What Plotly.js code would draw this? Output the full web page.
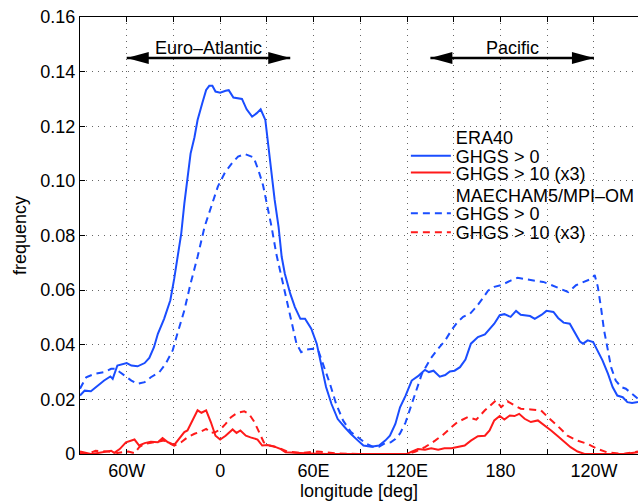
<!DOCTYPE html>
<html>
<head>
<meta charset="utf-8">
<script src="https://cdn.plot.ly/plotly-3.0.1.min.js"></script>
<style>html,body{margin:0;padding:0;background:#fff;overflow:hidden}</style>
</head>
<body>
<div id="chart" style="width:640px;height:501px"></div>
<script>
// ---------- data ----------
const eraAllLon = [-90,-87,-83,-78.5,-74.5,-70.5,-69,-66,-63.5,-60,-57,-53,-48.5,-45.5,-42.5,-40,-36,-32,-29.5,-27.5,-25,-23,-21,-19,-16.5,-14.5,-11.5,-9,-7,-5,-3,0,3.5,5.5,8.5,14,17,20.5,23.5,26,29,31,33,35,37.5,39.5,41.5,45,48,51.5,54.5,58.5,62,65,68,71.5,75.5,80,84,88.5,92,97,102,106,109,112.5,115.5,119,123,127.5,131.5,134,137,141,144.5,147.5,150.5,154,157.5,161,165.5,170,173,176,179.5,182.5,186.5,190,193,196,199,202,206.5,209.5,214,217,220.5,224.5,227.5,231,233,236,239.5,242.5,245.5,249,252,255,258.5,261.5,264.5,268.3];
const eraAllVal = [0.0214,0.0232,0.0230,0.0251,0.0269,0.0284,0.0275,0.0324,0.0327,0.0333,0.0324,0.0321,0.0333,0.0352,0.0391,0.0440,0.0495,0.0563,0.0642,0.0710,0.0807,0.0917,0.1003,0.1100,0.1160,0.1223,0.1284,0.1333,0.1348,0.1348,0.1327,0.1323,0.1330,0.1332,0.1305,0.1300,0.1262,0.1235,0.1248,0.1262,0.1223,0.1125,0.1028,0.0930,0.0832,0.0722,0.0661,0.0587,0.0538,0.0495,0.0495,0.0459,0.0404,0.0330,0.0245,0.0183,0.0128,0.0098,0.0073,0.0049,0.0031,0.0027,0.0031,0.0049,0.0067,0.0110,0.0171,0.0213,0.0269,0.0287,0.0308,0.0300,0.0305,0.0283,0.0289,0.0302,0.0305,0.0318,0.0346,0.0404,0.0428,0.0438,0.0459,0.0477,0.0508,0.0512,0.0502,0.0524,0.0510,0.0508,0.0505,0.0495,0.0510,0.0524,0.0520,0.0498,0.0481,0.0477,0.0447,0.0412,0.0404,0.0416,0.0410,0.0379,0.0343,0.0294,0.0245,0.0214,0.0208,0.0190,0.0187,0.0190];

const eraStrLon = [-90,-87,-83,-78.5,-74.5,-70,-68,-64.5,-60.5,-55,-52,-48.5,-44.5,-40,-37,-33.5,-29.5,-26.5,-23,-21,-17.5,-14.5,-12,-9,-6,-3,0,3.5,8,10.5,13,16.5,19.5,24,27,30.5,34.5,39,42,47.5,58,69,90,120,123,127,131.5,135.5,140,144,148.5,152.5,157,161,165.5,170,173,176,179.5,182.5,186,189,192,195.5,199.5,204,208,212.5,216.5,221,225,229.5,234,259,263.5,268.3];
const eraStrVal = [0.0009,0.0006,0,0.0004,0.0009,0.0012,0.0004,0.0018,0.0043,0.0053,0.0031,0.0040,0.0045,0.0043,0.0058,0.0043,0.0033,0.0055,0.0080,0.0086,0.0129,0.0160,0.0151,0.0160,0.0117,0.0067,0.0053,0.0067,0.0090,0.0077,0.0086,0.0067,0.0061,0.0053,0.0031,0.0033,0.0028,0.0018,0.0006,0.0004,0.0002,0,0,0,0.0009,0.0018,0.0016,0.0021,0.0016,0.0021,0.0021,0.0025,0.0031,0.0049,0.0065,0.0067,0.0086,0.0123,0.0139,0.0126,0.0141,0.0139,0.0147,0.0129,0.0117,0.0123,0.0107,0.0086,0.0067,0.0043,0.0025,0.0009,0,0,0.0004,0.0006];

const modAllLon = [-90,-86,-80.5,-74.5,-70,-67,-64.5,-61.5,-57,-53,-48.5,-44.5,-39,-35,-30.5,-27.5,-23,-19,-14.5,-10,-6,-1.5,3,7.5,11.5,16,21.5,24.5,27.5,30,33,36,39.5,42.5,46,49,52,55.5,59.5,63,66,70.5,74.5,79,84,89.5,94,98,102,106,109.5,112.5,115.5,119,123,126.5,129.5,135,139,144.5,148.5,152,156,160.5,164.5,168.5,172,176,180.5,186.5,191,197,202,207.5,213,218,223.5,228.5,234,238.5,240.5,242.5,244.5,246.5,249,251,254,257.5,260.5,263.5,268.3];
const modAllVal = [0.0239,0.0281,0.0294,0.0300,0.0312,0.0312,0.0300,0.0287,0.0269,0.0257,0.0263,0.0281,0.0300,0.0330,0.0379,0.0440,0.0526,0.0624,0.0722,0.0832,0.0905,0.0979,0.1030,0.1064,0.1089,0.1098,0.1086,0.1040,0.0985,0.0917,0.0832,0.0734,0.0648,0.0563,0.0477,0.0404,0.0373,0.0382,0.0385,0.0379,0.0330,0.0257,0.0183,0.0122,0.0080,0.0055,0.0037,0.0027,0.0027,0.0040,0.0043,0.0055,0.0075,0.0115,0.0180,0.0244,0.0293,0.0348,0.0379,0.0416,0.0453,0.0480,0.0502,0.0514,0.0539,0.0569,0.0598,0.0612,0.0618,0.0635,0.0645,0.0639,0.0634,0.0630,0.0618,0.0606,0.0593,0.0618,0.0630,0.0642,0.0655,0.0612,0.0538,0.0453,0.0379,0.0318,0.0269,0.0245,0.0239,0.0226,0.0202];

const modStrLon = [-90,-85,-80,-72,-66,-59,-55,-52,-48.5,-42.5,-36,-29.5,-25,-21,-16.5,-12.5,-9,-6,-3,0.5,3.5,7,11,15.5,18.5,22,25,28,31.5,36.5,43,51.5,62.5,75,90,120,125.5,131.5,138,143,148.5,152.5,159,164.5,170,174,177,180.5,184.5,189,193,199.5,206,211.5,216.5,223,229.5,236,242.5,248.5,259,268.3];
const modStrVal = [0.0004,0,0.0012,0.0009,0.0004,0.0009,0.0003,0.0025,0.0037,0.0043,0.0049,0.0031,0.0043,0.0061,0.0074,0.0082,0.0092,0.0077,0.0080,0.0092,0.0110,0.0135,0.0151,0.0156,0.0147,0.0117,0.0080,0.0043,0.0031,0.0025,0.0009,0.0004,0.0009,0.0002,0,0,0.0009,0.0025,0.0049,0.0070,0.0098,0.0117,0.0135,0.0126,0.0160,0.0180,0.0196,0.0172,0.0193,0.0178,0.0166,0.0163,0.0160,0.0129,0.0104,0.0067,0.0049,0.0037,0.0018,0.0006,0,0.0009];

const xTickVals = [-90,-60,-30,0,30,60,90,120,150,180,210,240,270];
const xTickText = ['','60W','','0','','60E','','120E','','180','','120W',''];
const yTickVals = [0,0.02,0.04,0.06,0.08,0.10,0.12,0.14,0.16];
const yTickText = ['0','0.02','0.04','0.06','0.08','0.10','0.12','0.14','0.16'];

const regionNames = ['Euro–Atlantic','Pacific'];
const regionStart = [-60,135];
const regionEnd = [45,240];
const regionLevel = 0.145;

const legendHeads = ['ERA40','MAECHAM5/MPI–OM'];
const seriesNames = ['GHGS > 0','GHGS > 10 (x3)'];

// ---------- styling ----------
const BLUE = '#1a4dff';
const RED = '#ff1a1a';
const FONT = '"Liberation Sans", Arial, Helvetica, sans-serif';
const DASH = '7px,5px';
const legendRowY = [0.7243, 0.6819, 0.6435, 0.592, 0.5503, 0.5069];
const legendIds = ['legend','legend2','legend3','legend4','legend5','legend6'];

const header = (name, lg) => ({x:[null], y:[null], type:'scatter', mode:'lines', name:name, legend:lg, line:{width:0, color:'rgba(0,0,0,0)'}, hoverinfo:'skip'});

const traces = [
  header(legendHeads[0], legendIds[0]),
  {x:eraAllLon, y:eraAllVal, type:'scatter', mode:'lines', name:seriesNames[0], legend:legendIds[1], line:{color:BLUE, width:2}},
  {x:eraStrLon, y:eraStrVal, type:'scatter', mode:'lines', name:seriesNames[1], legend:legendIds[2], line:{color:RED, width:2}},
  header(legendHeads[1], legendIds[3]),
  {x:modAllLon, y:modAllVal, type:'scatter', mode:'lines', name:seriesNames[0], legend:legendIds[4], line:{color:BLUE, width:2, dash:DASH}},
  {x:modStrLon, y:modStrVal, type:'scatter', mode:'lines', name:seriesNames[1], legend:legendIds[5], line:{color:RED, width:2, dash:DASH}}
];

const shapes = [];
const annotations = [];
regionNames.forEach((nm, i) => {
  shapes.push({type:'line', xref:'x', yref:'y', x0:regionStart[i], x1:regionEnd[i], y0:regionLevel, y1:regionLevel, line:{color:'black', width:2.5}});
  shapes.push({type:'path', xref:'x', yref:'y', xsizemode:'pixel', ysizemode:'pixel', xanchor:regionStart[i], yanchor:regionLevel, path:'M0,0 L22,6 L22,-6 Z', fillcolor:'black', line:{width:0}});
  shapes.push({type:'path', xref:'x', yref:'y', xsizemode:'pixel', ysizemode:'pixel', xanchor:regionEnd[i], yanchor:regionLevel, path:'M0,0 L-22,6 L-22,-6 Z', fillcolor:'black', line:{width:0}});
  annotations.push({xref:'x', yref:'y', x:(regionStart[i]+regionEnd[i])/2, y:regionLevel, yshift:10, text:nm, showarrow:false, font:{family:FONT, size:18, color:'black'}});
});

const axisCommon = {
  showline:true, linecolor:'black', linewidth:1.2,
  ticks:'inside', ticklen:5, tickwidth:1, tickcolor:'black',
  showgrid:true, gridcolor:'#666', gridwidth:1, griddash:'1px,5px',
  zeroline:false, tickfont:{family:FONT, size:18, color:'black'}
};

const layout = {
  width:640, height:501,
  margin:{l:80, r:0, t:17, b:47},
  paper_bgcolor:'white', plot_bgcolor:'white',
  font:{family:FONT, color:'black'},
  showlegend:true,
  xaxis:Object.assign({}, axisCommon, {range:[-90,268.3], tickmode:'array', tickvals:xTickVals, ticktext:xTickText, mirror:'ticks', layer:'below traces', title:{text:'longitude [deg]', font:{family:FONT, size:18, color:'black'}, standoff:2}}),
  yaxis:Object.assign({}, axisCommon, {range:[0,0.16], tickmode:'array', tickvals:yTickVals, ticktext:yTickText, mirror:false, layer:'below traces', title:{text:'frequency', font:{family:FONT, size:18, color:'black'}, standoff:8}}),
  shapes:shapes,
  annotations:annotations
};
legendIds.forEach((id, i) => {
  layout[id] = {x:0.584, y:legendRowY[i], xanchor:'left', yanchor:'middle', bgcolor:'rgba(0,0,0,0)', borderwidth:0, font:{family:FONT, size:18, color:'black'}, itemwidth:40};
});

Plotly.newPlot('chart', traces, layout, {staticPlot:true, displayModeBar:false});
</script>
</body>
</html>
